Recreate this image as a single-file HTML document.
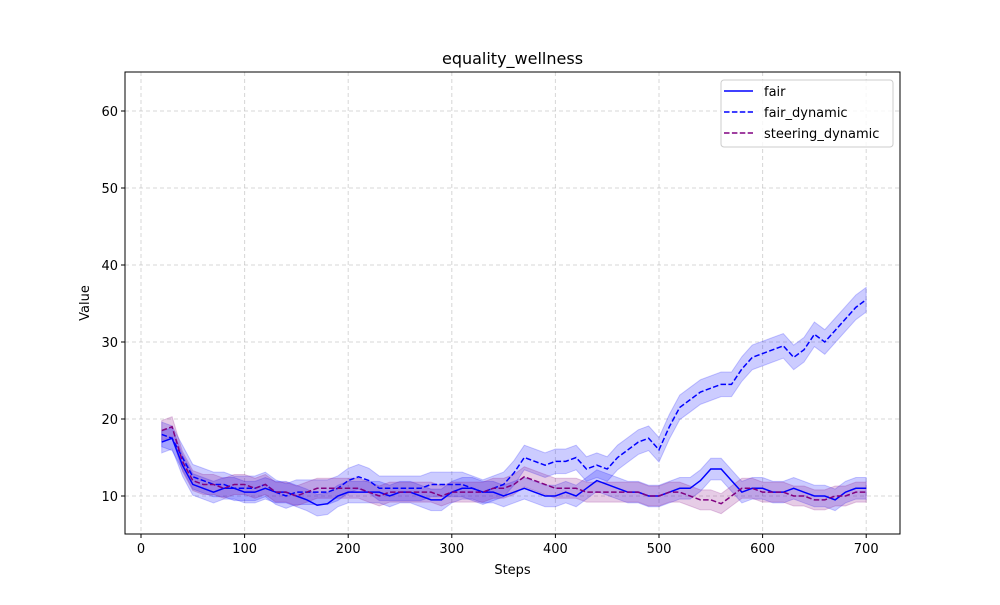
<!DOCTYPE html>
<html><head><meta charset="utf-8"><style>
body{margin:0;background:#fff}
svg text{font-family:"DejaVu Sans","Liberation Sans",sans-serif}
</style></head><body>
<svg id="chart" width="1000" height="600" xmlns="http://www.w3.org/2000/svg">
<rect width="1000" height="600" fill="#fff"/>
<g id="grid"></g>
<g id="bands"></g>
<g id="lines"></g>
<rect x="125" y="72" width="775" height="462" fill="none" stroke="#000" stroke-width="1"/>
<g id="ticks"></g>
<text x="512.5" y="64" font-size="16" text-anchor="middle">equality_wellness</text>
<text x="512.5" y="574" font-size="13" text-anchor="middle">Steps</text>
<text transform="translate(89,303) rotate(-90)" font-size="13" text-anchor="middle">Value</text>
<g>
<rect x="721" y="80" width="172" height="67" rx="3" fill="#fff" fill-opacity="0.8" stroke="#ccc"/>
<line x1="724" y1="91" x2="753" y2="91" stroke="#0000ff" stroke-width="1.5"/>
<text x="764" y="96" font-size="13">fair</text>
<line x1="724" y1="112" x2="753" y2="112" stroke="#0000ff" stroke-width="1.5" stroke-dasharray="5.5,2.4"/>
<text x="764" y="117" font-size="13">fair_dynamic</text>
<line x1="724" y1="133" x2="753" y2="133" stroke="#800080" stroke-width="1.5" stroke-dasharray="5.5,2.4"/>
<text x="764" y="138" font-size="13">steering_dynamic</text>
</g>
</svg>
<script>
const steps=[];for(let s=20;s<=700;s+=10)steps.push(s);
const fair=[17,17.5,14,11.5,11,10.5,11,11,10.5,10.5,11,10.5,10.5,10,9.5,8.8,9,10,10.5,10.5,10.5,10.5,10,10.5,10.5,10,9.5,9.5,10.5,11,11,10.5,10.5,10,10.5,11,10.5,10,10,10.5,10,11,12,11.5,11,10.5,10.5,10,10,10.5,11,11,12,13.5,13.5,12,10.5,11,11,10.5,10.5,11,10.5,10,10,9.5,10.5,11,11];
const fairDynamic=[18,17.5,15,12.5,12,11.5,11.5,11,11,11,11.5,10.5,10,10.5,10.5,10.5,10.5,11,12,12.5,12,11,11,11,11,11,11.5,11.5,11.5,11.5,11,10.5,11,11.5,13,15,14.5,14,14.5,14.5,15,13.5,14,13.5,15,16,17,17.5,16,19,21.5,22.5,23.5,24,24.5,24.5,26.5,28,28.5,29,29.5,28,29,31,30,31.5,33,34.5,35.5];
const steering=[18.5,19,14.5,12,11.5,11.5,11,11.5,11.5,11,11.5,10.5,10.5,10,10.5,11,11,11,11,11,10.5,10,10.5,10.5,10.5,10.5,10.5,10,10.5,10.5,10.5,10.5,11,11,11.5,12.5,12,11.5,11,11,11,10.5,10.5,10.5,10.5,10.5,10.5,10,10,10.5,10.5,10,9.5,9.5,9,10,11,11,10.5,10.5,10.5,10,10,9.5,9.5,10,10,10.5,10.5];
const bandFair=1.4, bandFairDynamic=1.6, bandSteering=1.3;
const xTicks=[0,100,200,300,400,500,600,700];
const yTicks=[10,20,30,40,50,60];
const X=v=>141+v*1.036, Y=v=>496-(v-10)*7.7;
const NS="http://www.w3.org/2000/svg";
function mk(t,a,p){const e=document.createElementNS(NS,t);for(const k in a)e.setAttribute(k,a[k]);p.appendChild(e);return e;}
const grid=document.getElementById('grid'),ticks=document.getElementById('ticks');
xTicks.forEach(v=>{
 const g=mk('line',{x1:X(v),x2:X(v),y1:72,y2:534,stroke:'#b0b0b0','stroke-opacity':0.5,'stroke-dasharray':'4,3'},grid);
 
 mk('line',{x1:X(v),x2:X(v),y1:534,y2:538,stroke:'#000'},ticks);
 const t=mk('text',{x:X(v),y:553,'font-size':13,'text-anchor':'middle'},ticks);t.textContent=v;
 
});
yTicks.forEach(v=>{
 const g=mk('line',{x1:125,x2:900,y1:Y(v),y2:Y(v),stroke:'#b0b0b0','stroke-opacity':0.5,'stroke-dasharray':'4,3'},grid);
 
 mk('line',{x1:121,x2:125,y1:Y(v),y2:Y(v),stroke:'#000'},ticks);
 const t=mk('text',{x:118,y:Y(v)+5,'font-size':13,'text-anchor':'end'},ticks);t.textContent=v;
 
});
const series=[[fair,bandFair,'#0000ff','none','fair'],[fairDynamic,bandFairDynamic,'#0000ff','5.5,2.4','fair-dynamic'],[steering,bandSteering,'#800080','5.5,2.4','steering-dynamic']];
series.forEach(([vals,b,c,d,n])=>{
 const up=vals.map((v,i)=>X(steps[i])+','+Y(v+b)),dn=vals.map((v,i)=>X(steps[i])+','+Y(v-b)).reverse();
 const p=mk('polygon',{points:up.concat(dn).join(' '),fill:c,'fill-opacity':0.2,stroke:c,'stroke-opacity':0.2},document.getElementById('bands'));
 
 const l=mk('polyline',{points:vals.map((v,i)=>X(steps[i])+','+Y(v)).join(' '),fill:'none',stroke:c,'stroke-width':1.5,'stroke-dasharray':d},document.getElementById('lines'));
 
});
</script>
</body></html>
